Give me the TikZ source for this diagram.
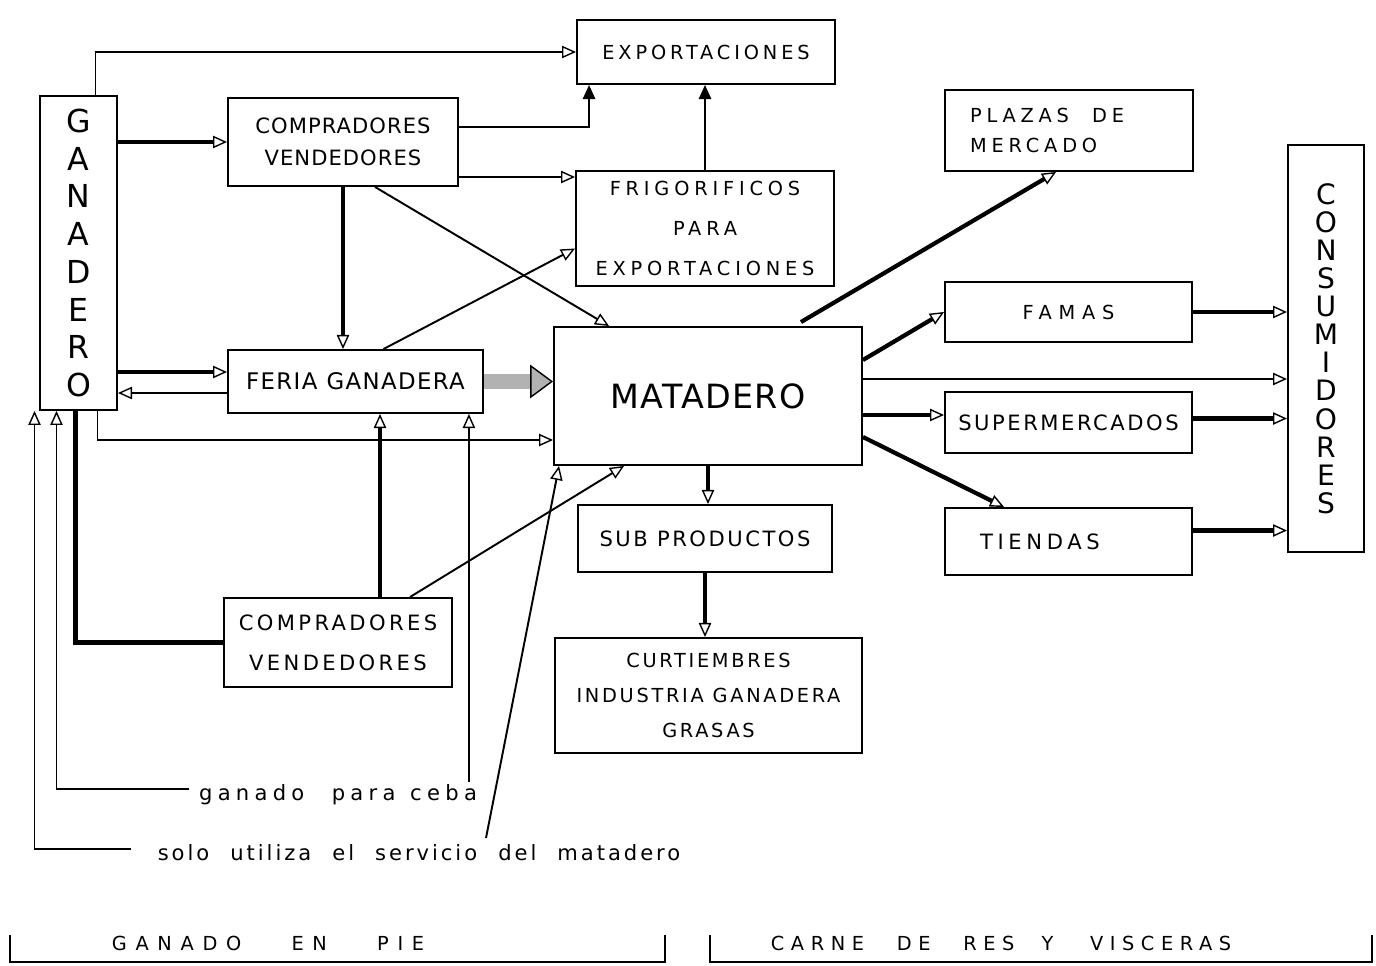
\documentclass[tikz,border=0pt]{standalone}
\usepackage{fontspec}
\setmainfont{DejaVu Sans}
\usepackage{tikz}
\usetikzlibrary{arrows.meta,positioning,calc}
\newcommand{\wfont}[3]{\fontsize{#1}{#2}\selectfont\addfontfeatures{LetterSpace=#3}}

\begin{document}
\begin{tikzpicture}[x=0.02cm,y=-0.02cm,
  >={Triangle[open,length=8pt,width=7pt,line width=0.8pt]},
  box/.style={draw,line width=1.1pt,inner sep=0pt,align=center},
  flow/.style={->,line width=1.1pt},
  heavy/.style={->,line width=2.4pt},
  plain/.style={line width=1.1pt},
  solidtip/.style={-{Triangle[length=8pt,width=7pt]},line width=1.1pt},
  note/.style={inner sep=1pt,anchor=base}]
\useasboundingbox (0,0) rectangle (1376,966);

% boxes
\node[box,minimum width=1.54cm,minimum height=6.28cm,font=\wfont{18}{21.5}{0}] (gan) at (78.5,253) {G\\A\\N\\A\\D\\E\\R\\O};
\node[box,minimum width=5.16cm,minimum height=1.28cm,font=\wfont{11}{13}{20}] (expo) at (706,52) {EXPORTACIONES};
\node[box,minimum width=4.6cm,minimum height=1.76cm,font=\wfont{12}{18}{5}] (comp1) at (343,142) {COMPRADORES\\VENDEDORES};
\node[box,minimum width=5.16cm,minimum height=2.3cm,font=\wfont{11}{22.6}{25}] (frig) at (705,228.5) {FRIGORIFICOS\\PARA\\EXPORTACIONES};
\node[box,minimum height=1.62cm,inner xsep=0.5cm,text width=3.96cm,align=left,font=\wfont{11}{17}{25}] (plaza) at (1069,130.5) {PLAZAS\hspace{1.2em}DE\\MERCADO};
\node[box,minimum width=1.52cm,minimum height=8.14cm,font=\wfont{16}{16}{0}] (cons) at (1326,348.5) {C\\O\\N\\S\\U\\M\\I\\D\\O\\R\\E\\S};
\node[box,minimum width=4.94cm,minimum height=1.2cm,font=\wfont{11}{13}{35}] (famas) at (1068.5,312) {FAMAS};
\node[box,minimum width=6.16cm,minimum height=2.76cm,font=\wfont{19}{22}{4}] (mat) at (708,396) {MATADERO};
\node[box,minimum width=5.1cm,minimum height=1.26cm,font=\wfont{13}{15}{6}] (feria) at (355.5,381.5) {FERIA\hspace{0.4em}GANADERA};
\node[box,minimum width=4.94cm,minimum height=1.22cm,font=\wfont{12}{14}{12}] (super) at (1068.5,422.5) {SUPERMERCADOS};
\node[box,minimum height=1.34cm,inner xsep=0.7cm,text width=3.54cm,align=left,font=\wfont{12}{14}{22}] (tiendas) at (1068.5,541.5) {TIENDAS};
\node[box,minimum width=5.08cm,minimum height=1.34cm,font=\wfont{12}{14}{12}] (sub) at (705,538.5) {SUB PRODUCTOS};
\node[box,minimum width=4.56cm,minimum height=1.78cm,font=\wfont{12}{22.6}{16}] (comp2) at (338,642.5) {COMPRADORES\\VENDEDORES};
\node[box,minimum width=6.14cm,minimum height=2.3cm,font=\wfont{11}{20}{14}] (curt) at (708.5,695.5) {CURTIEMBRES\\INDUSTRIA GANADERA\\GRASAS};

% notes
\node[note,font=\wfont{12}{14}{25}] (ceba) at (338,800) {ganado\hspace{1.3em}para\hspace{0.7em}ceba};
\node[note,font=\wfont{12}{14}{14}] (serv) at (419,860) {solo\hspace{1em}utiliza\hspace{1em}el\hspace{1em}servicio\hspace{1em}del\hspace{1em}matadero};
\node[note,font=\wfont{11}{13}{45}] (pie) at (268,950) {GANADO\hspace{2.6em}EN\hspace{2.6em}PIE};
\node[note,font=\wfont{11}{13}{34}] (carne) at (1001,950) {CARNE\hspace{1.7em}DE\hspace{1.7em}RES\hspace{1.4em}Y\hspace{1.9em}VISCERAS};

% helper points
\coordinate (c1a) at ($(comp1.east)+(0,35)$);
\coordinate (c1b) at ($(comp1.east)+(0,-15)$);
\coordinate (f1) at ($(feria.west)+(0,-9.5)$);
\coordinate (f2) at ($(feria.west)+(0,11.5)$);
\coordinate (c2a) at ($(comp2.north)+(42,0)$);
\coordinate (cb) at ($(feria.south east)+(-15,0)$);
\coordinate (sv) at (486,838);
\coordinate (m1) at ($(mat.east)+(0,-17)$);
\coordinate (m2) at ($(mat.east)+(0,19)$);
\coordinate (s1) at ($(super.east)+(0,-4)$);
\coordinate (t1) at ($(tiendas.east)+(0,-11)$);

% ganado en pie
\draw[flow] ($(gan.north)+(17,0)$) |- (expo.west);
\draw[heavy] (comp1.west -| gan.east) -- (comp1.west);
\draw[solidtip] (c1b) -| ($(expo.south west)+(13,0)$);
\draw[flow] (c1a) -- (c1a -| frig.west);
\draw[solidtip] (frig.north) -- (frig.north |- expo.south);
\draw[heavy] (comp1.south) -- (comp1.south |- feria.north);
\draw[flow] ($(comp1.south)+(32,0)$) -- ($(mat.north west)+(56,0)$);
\draw[flow] ($(feria.north)+(28,0)$) -- ($(frig.west)+(0,20)$);
\draw[heavy] (f1 -| gan.east) -- (f1);
\draw[flow] (f2) -- (f2 -| gan.east);
\draw[line width=9pt,gray!60,-{Triangle[length=13pt,width=19pt,fill=gray!60,color=black,line width=0.8pt]}] (feria.east) -- (feria.east -| mat.west);
\draw[flow] ($(gan.south)+(19,0)$) |- ($(mat.west)+(0,44)$);
\draw[plain,line width=2.4pt] ($(gan.south)+(-3,0)$) |- (comp2.west);
\draw[heavy] (c2a) -- (c2a |- feria.south);
\draw[flow] ($(comp2.north)+(72,0)$) -- ($(mat.south west)+(71,0)$);
\draw[flow] ($(ceba.west)+(-8,-5)$) -| ($(gan.south)+(-22,0)$);
\draw[flow] (cb |- ceba.north) -- (cb);
\draw[flow] ($(serv.west)+(-25,-3)$) -| ($(gan.south)+(-44,0)$);
\draw[flow] (sv) -- ($(mat.south west)+(6,0)$);

% carne de res y visceras
\draw[heavy] ($(mat.north east)+(-62,-4)$) -- ($(plaza.south west)+(112,0)$);
\draw[heavy] ($(mat.east)+(0,-36)$) -- (famas.west);
\draw[flow] (m1) -- (m1 -| cons.west);
\draw[heavy] (m2) -- (m2 -| super.west);
\draw[heavy] ($(mat.east)+(0,41)$) -- ($(tiendas.north west)+(60,0)$);
\draw[heavy] (famas.east) -- (famas.east -| cons.west);
\draw[heavy] (s1) -- (s1 -| cons.west);
\draw[heavy] (t1) -- (t1 -| cons.west);
\draw[heavy] (mat.south) -- (mat.south |- sub.north);
\draw[heavy] (sub.south) -- (sub.south |- curt.north);

% brackets
\draw[plain] (10,935) |- (665,962) -- (665,935);
\draw[plain] (710,935) |- (1372,962) -- (1372,935);
\end{tikzpicture}
\end{document}
